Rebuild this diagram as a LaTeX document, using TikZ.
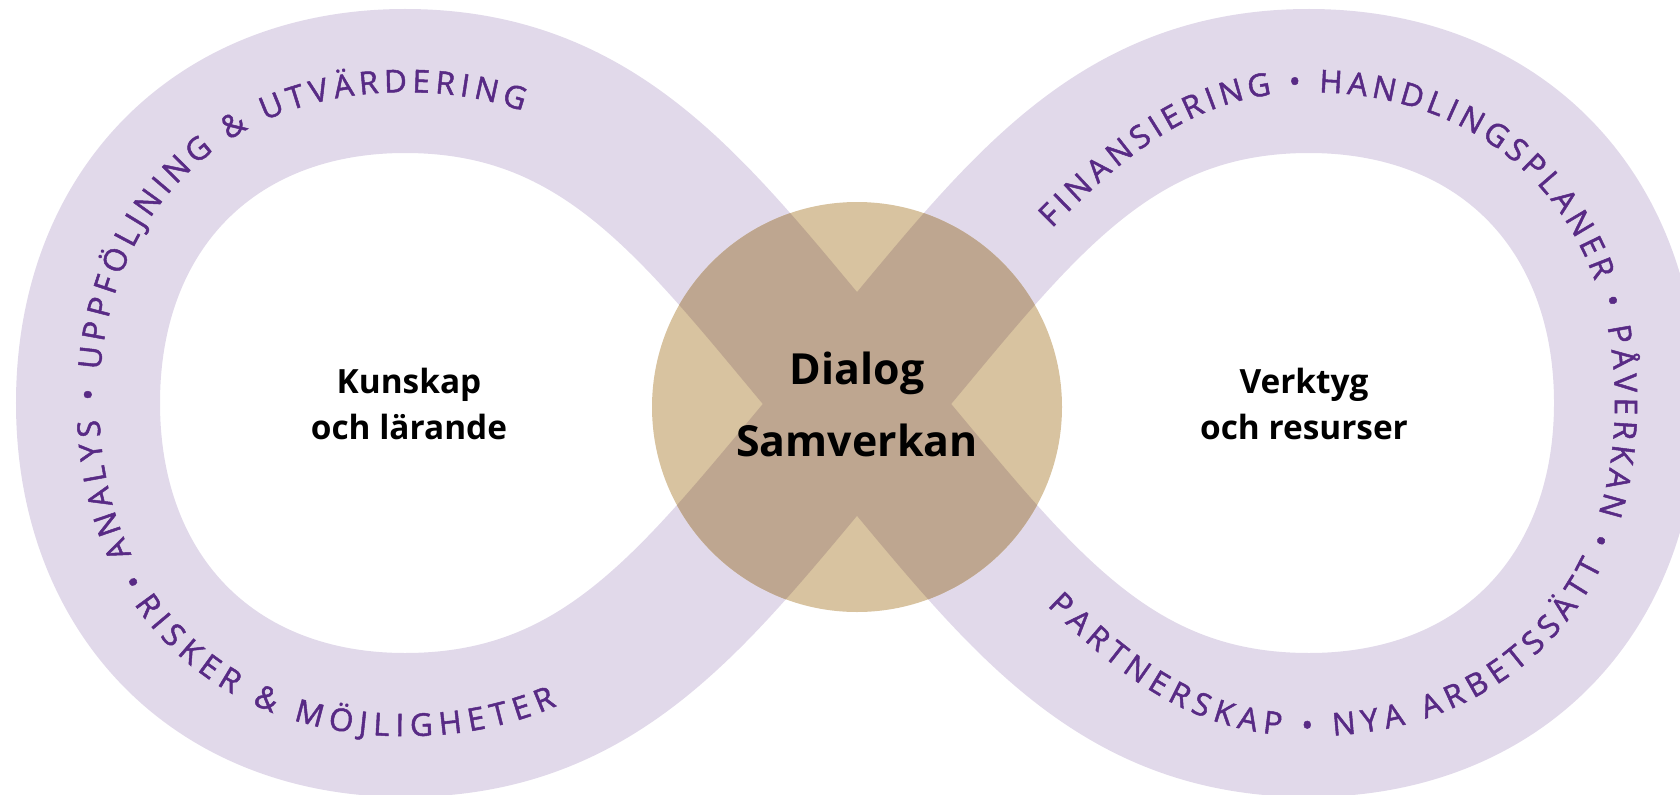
\documentclass[tikz,border=0pt]{standalone}
\usepackage{fontspec}
\setmainfont{Open Sans}
\newfontfamily\bandfam{Open Sans}[FakeBold=1.5]
\usetikzlibrary{decorations.text}
\definecolor{bandcol}{HTML}{E1D9EA}
\definecolor{circcol}{HTML}{D8C3A0}
\definecolor{overcol}{HTML}{BEA690}
\definecolor{bandtext}{HTML}{582A85}
\newcommand{\bandfmt}{\bandfam\fontsize{31.5}{32}\selectfont\color{bandtext}}
\begin{document}
\begin{tikzpicture}[x=1bp,y=-1bp,
  bandline/.style={line width=144bp, line cap=round},
  lbl/.style={font=\fontsize{33.5}{40}\selectfont\bfseries, inner sep=0pt, anchor=base},
  biglbl/.style={font=\fontsize{43}{50}\selectfont\bfseries, inner sep=0pt, anchor=base},
  ringtext/.style n args={3}{decorate, decoration={text along path, raise=-11.2bp,
      text align={left indent=#1, right indent=#2, fit to path},
      text={|\bandfmt|#3}}}]
\useasboundingbox (0,0) rectangle (1680,795);
\clip (0,0) rectangle (1680,795);
% key points of the band centre line
\coordinate (C) at (857,404);
\coordinate (T) at (405,81);
\coordinate (L) at (88,403);
\coordinate (B) at (405,725);
\coordinate (Tr) at (1309,81);
\coordinate (R) at (1626,403);
\coordinate (Br) at (1309,725);
\def\bandpath{(C) .. controls (707,229) and (615,81) .. (T)
   .. controls (215,81) and (88,210) .. (L)
   .. controls (88,596) and (215,725) .. (B)
   .. controls (615,725) and (707,579) .. (C)
   .. controls (1007,229) and (1099,81) .. (Tr)
   .. controls (1499,81) and (1626,210) .. (R)
   .. controls (1626,596) and (1499,725) .. (Br)
   .. controls (1099,725) and (1007,579) .. (C)}
% band
\draw[bandline, draw=bandcol] \bandpath;
% circle
\fill[circcol] (857,407) circle[radius=205];
\begin{scope}
  \clip (857,407) circle[radius=205];
  \draw[bandline, draw=overcol] \bandpath;
\end{scope}
% texts along the band
\path[ringtext={316bp}{455bp}{• ANALYS • UPPFÖLJNING {\&} UTVÄRDERING}]
  (B) .. controls (215,725) and (88,596) .. (L)
  .. controls (88,210) and (215,81) .. (T)
  .. controls (615,81) and (707,229) .. (C);
\path[ringtext={205bp}{425bp}{RISKER {\&} MÖJLIGHETER}]
  (L) .. controls (88,596) and (215,725) .. (B)
  .. controls (615,725) and (707,579) .. (C);
\path[ringtext={262bp}{362bp}{FINANSIERING • HANDLINGSPLANER • PÅVERKAN •}]
  (C) .. controls (1040,250) and (1120,81) .. (Tr)
  .. controls (1499,81) and (1626,210) .. (R)
  .. controls (1626,596) and (1499,725) .. (Br);
\path[ringtext={277bp}{162bp}{PARTNERSKAP • NYA ARBETSSÄTT}]
  (C) .. controls (1040,558) and (1120,725) .. (Br)
  .. controls (1499,725) and (1626,596) .. (R);
% labels
\node[lbl] (k1) at (409,393) {Kunskap};
\node[lbl] (k2) at (409,439) {och lärande};
\node[lbl] (v1) at (1304,393) {Verktyg};
\node[lbl] (v2) at (1304,439) {och resurser};
\node[biglbl] (d1) at (857,384) {Dialog};
\node[biglbl] (d2) at (857,456) {Samverkan};
\end{tikzpicture}
\end{document}
